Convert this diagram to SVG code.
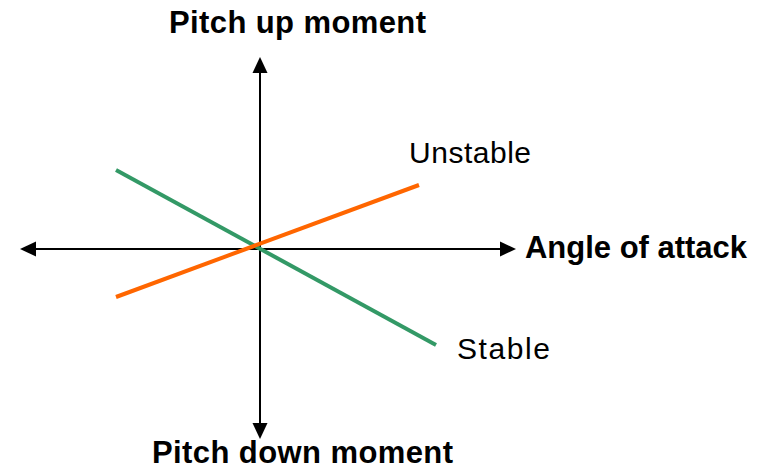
<svg xmlns="http://www.w3.org/2000/svg" width="769" height="470" viewBox="0 0 769 470">
<style>
.axis{stroke:#000;stroke-width:2;fill:none}
.head{fill:#000}
.b{font-family:"Liberation Sans",Arial,sans-serif;font-weight:bold;font-size:31px;fill:#000}
.r{font-family:"Liberation Sans",Arial,sans-serif;font-size:30px;fill:#000}
</style>
<rect width="769" height="470" fill="#fff"/>
<g id="connectors">
<line class="axis" x1="34" y1="249" x2="502" y2="249"/>
<polygon class="head" points="20,249 36,241.5 36,256.5"/>
<polygon class="head" points="516,249 500,241.5 500,256.5"/>
<line class="axis" x1="260" y1="70" x2="260" y2="426"/>
<polygon class="head" points="260,57 252.5,73 267.5,73"/>
<polygon class="head" points="260,439 252.5,423 267.5,423"/>
</g>
<g id="stable-line"><line x1="116" y1="170" x2="436" y2="345" stroke="#339966" stroke-width="4"/></g>
<g id="unstable-line"><line x1="116" y1="297" x2="419" y2="185" stroke="#ff6600" stroke-width="4"/></g>
<g id="label-up"><text class="b" x="169" y="33" textLength="257" lengthAdjust="spacing">Pitch up moment</text></g>
<g id="label-down"><text class="b" x="152" y="463" textLength="301" lengthAdjust="spacing">Pitch down moment</text></g>
<g id="label-aoa"><text class="b" x="525" y="258" textLength="222" lengthAdjust="spacing">Angle of attack</text></g>
<g id="label-unstable"><text class="r" x="409" y="163" textLength="122" lengthAdjust="spacing">Unstable</text></g>
<g id="label-stable"><text class="r" x="457" y="359" textLength="93" lengthAdjust="spacing">Stable</text></g>
</svg>
